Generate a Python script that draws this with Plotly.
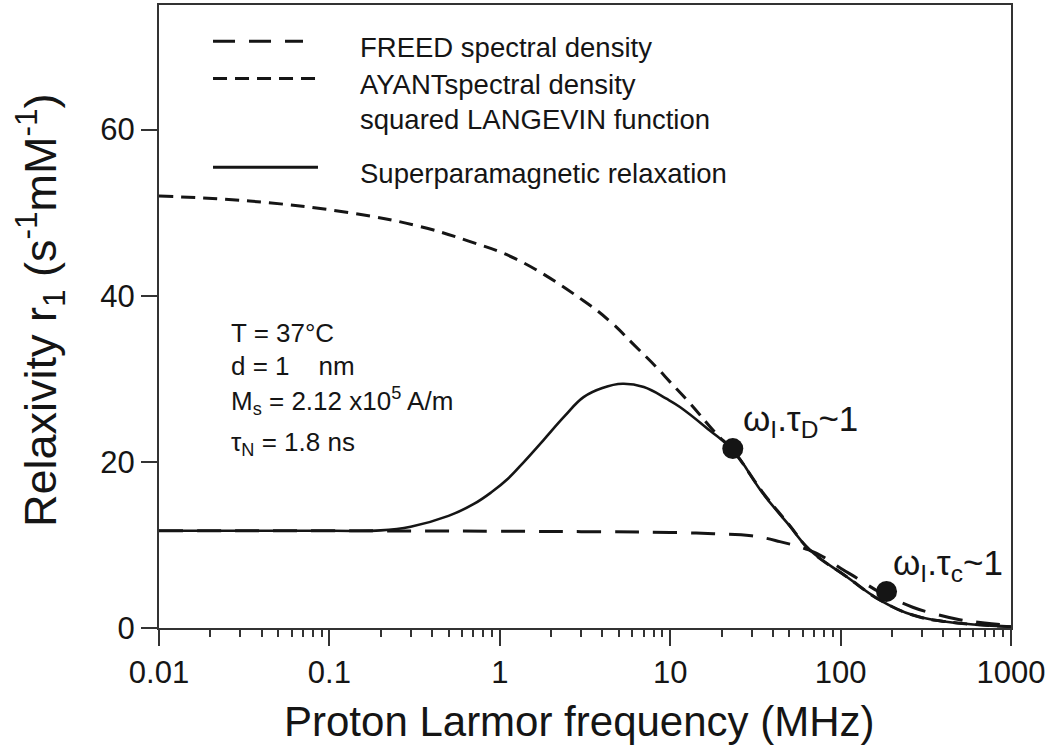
import math
import plotly.graph_objects as go

# Proton Larmor frequency (MHz) and relaxivity r1 (s^-1 mM^-1) for each model
freed_f = [0.01, 0.1, 1, 3, 10, 18, 30, 44, 65, 80, 100, 125, 170, 265, 350, 500, 700, 1000]
freed_r = [11.7, 11.7, 11.65, 11.6, 11.5, 11.35, 11.1, 10.4, 9.4, 8.5, 7.2, 6.0, 4.3, 2.5, 1.75, 1.0, 0.6, 0.3]

ayant_f = [0.01, 0.034, 0.13, 0.33, 0.65, 1.25, 3.1, 4.5, 6.05, 8.3, 10, 13, 18.6, 23.3, 35, 50, 65.8, 108, 169, 265, 417, 1000]
ayant_r = [52.0, 51.4, 50.0, 48.4, 46.6, 44.4, 39.4, 36.8, 34.2, 31.4, 29.6, 27.1, 23.4, 21.4, 16.3, 12.4, 9.4, 6.2, 3.4, 1.56, 0.76, 0.16]

spm_f = [0.01, 0.1, 0.2, 0.3, 0.5, 0.7, 0.9, 1.12, 1.4, 1.8, 2.4, 3.1, 4.0, 5.25, 7.0, 9.5, 11.4, 17, 23.3, 35, 50, 65.8, 108, 169, 265, 417, 1000]
spm_r = [11.7, 11.7, 11.75, 12.2, 13.5, 14.9, 16.4, 18.0, 20.1, 22.6, 25.5, 27.8, 28.9, 29.4, 29.0, 27.6, 26.6, 23.8, 21.4, 16.2, 12.35, 9.4, 6.2, 3.4, 1.56, 0.76, 0.16]

# Characteristic points: omega_I * tau_D ~ 1 and omega_I * tau_c ~ 1
mark_f = [23.3, 186]
mark_r = [21.6, 4.4]
mark_text = ["ω<sub>I</sub>.τ<sub>D</sub>~1", "ω<sub>I</sub>.τ<sub>c</sub>~1"]

x_major = [0.01, 0.1, 1, 10, 100, 1000]
x_major_text = ["0.01", "0.1", "1", "10", "100", "1000"]
x_minor = [m * 10.0 ** e for e in range(-2, 3) for m in range(2, 10)]
y_ticks = [0, 20, 40, 60]

legend_labels = ["FREED spectral density", "AYANTspectral density",
                 "squared LANGEVIN function", "Superparamagnetic relaxation"]
params = ["T = 37°C", "d = 1\u00a0\u00a0\u00a0 nm",
          "M<sub>s</sub> = 2.12 x10<sup>5</sup> A/m", "τ<sub>N</sub> = 1.8 ns"]

FONT = "Liberation Sans, Arial, sans-serif"
INK = "#151515"

fig = go.Figure()
fig.add_trace(go.Scatter(x=freed_f, y=freed_r, mode="lines",
                         line=dict(color=INK, width=3, dash="24px,14px", shape="spline", smoothing=1.2)))
fig.add_trace(go.Scatter(x=ayant_f, y=ayant_r, mode="lines",
                         line=dict(color=INK, width=3, dash="14px,8px", shape="spline", smoothing=1.2)))
fig.add_trace(go.Scatter(x=spm_f, y=spm_r, mode="lines",
                         line=dict(color=INK, width=2.6, shape="spline", smoothing=1.2)))
fig.add_trace(go.Scatter(x=mark_f, y=mark_r, mode="markers",
                         marker=dict(color=INK, size=21, line=dict(width=0))))

annotations = []
# labels next to the characteristic points (log axis: annotation x is log10)
for f, r, t, dx, dy in zip(mark_f, mark_r, mark_text, [8, 4], [28, 26]):
    annotations.append(dict(x=math.log10(f), y=r, xref="x", yref="y", text=t, showarrow=False,
                            xshift=dx, yshift=dy, xanchor="left", yanchor="middle",
                            font=dict(family=FONT, size=35, color=INK)))

# hand-drawn key in the upper part of the plot
key_y = [0.9419, 0.8821, 0.7397]
key_x1 = [0.1690, 0.1866, 0.1866]
key_dash = ["22px,14px", "14px,8px", "solid"]
shapes = []
for yk, x1, dsh in zip(key_y, key_x1, key_dash):
    shapes.append(dict(type="line", xref="paper", yref="paper", x0=0.0634, x1=x1, y0=yk, y1=yk,
                       line=dict(color=INK, width=3, dash=dsh)))
for txt, yk in zip(legend_labels, [0.9312, 0.872, 0.816, 0.7296]):
    annotations.append(dict(x=0.2336, y=yk, xref="paper", yref="paper", text=txt, showarrow=False,
                            xanchor="left", yanchor="middle", font=dict(family=FONT, size=27.5, color=INK)))

for txt, yk in zip(params, [0.4736, 0.4208, 0.3648, 0.296]):
    annotations.append(dict(x=0.0822, y=yk, xref="paper", yref="paper", text=txt, showarrow=False,
                            xanchor="left", yanchor="middle", font=dict(family=FONT, size=26, color=INK)))

# axis titles
annotations.append(dict(x=0.494, y=-0.1504, xref="paper", yref="paper",
                        text="Proton Larmor frequency (MHz)", showarrow=False,
                        xanchor="center", yanchor="middle", font=dict(family=FONT, size=42, color=INK)))
annotations.append(dict(x=-0.1397, y=0.5104, xref="paper", yref="paper", textangle=-90,
                        text="Relaxivity r<sub>1</sub> (s<sup>-1</sup>mM<sup>-1</sup>)", showarrow=False,
                        xanchor="center", yanchor="middle", font=dict(family=FONT, size=45, color=INK)))

fig.update_layout(
    width=1054, height=747,
    margin=dict(l=159, r=43, t=3, b=119),
    paper_bgcolor="white", plot_bgcolor="white",
    showlegend=False,
    shapes=shapes,
    annotations=annotations,
    font=dict(family=FONT, color=INK),
)
fig.update_xaxes(type="log", range=[-2, 3], showgrid=False, zeroline=False,
                 showline=True, linecolor="#333", linewidth=2, mirror=True,
                 tickmode="array", tickvals=x_major, ticktext=x_major_text,
                 ticks="outside", ticklen=16, tickwidth=1.5, tickcolor="#333",
                 tickfont=dict(family=FONT, size=31, color=INK),
                 minor=dict(tickmode="array", tickvals=x_minor, ticks="outside",
                            ticklen=7, tickwidth=1.5, tickcolor="#333", showgrid=False))
fig.update_yaxes(range=[0, 75], showgrid=False, zeroline=False,
                 showline=True, linecolor="#333", linewidth=2, mirror=True,
                 tickmode="array", tickvals=y_ticks,
                 ticks="outside", ticklen=16, tickwidth=1.5, tickcolor="#333",
                 tickfont=dict(family=FONT, size=31, color=INK))

fig.write_html("out.html")
